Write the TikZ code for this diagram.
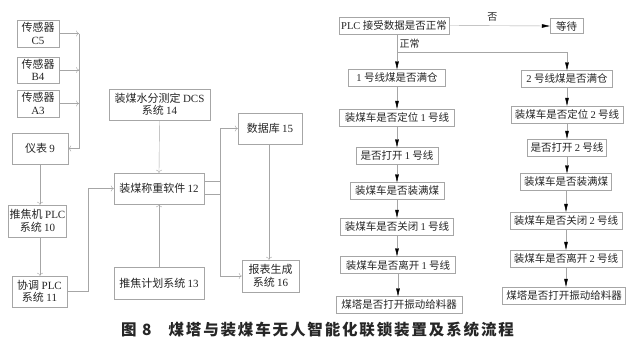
\documentclass[tikz,border=0pt]{standalone}
\usepackage{fontspec}
\setmainfont{Liberation Serif}
\newfontfamily\cjk{Noto Sans CJK SC}
\usetikzlibrary{arrows.meta}
\newcommand{\en}[1]{{\rmfamily #1}}
\tikzset{
  box/.style={draw=gray!70, thin, fill=white, align=center, text=black!85,
    inner sep=1pt, font=\cjk\fontsize{11}{12.5}\selectfont},
  fbox/.style={box, minimum height=17, font=\cjk\fontsize{10.5}{12}\selectfont},
  larr/.style={gray!70, thin, -{To[length=3pt,width=6pt]}},
  farr/.style={gray!70, thin, -{Triangle[length=8pt,width=3.6pt,black]}},
}
\begin{document}
\begin{tikzpicture}[x=1pt, y=-1pt]
\useasboundingbox (0,0) rectangle (638,348);

% ── Left: device / system links ────────────────────────────────
\node[box, minimum width=42, minimum height=27] (s5) at (38,33.5) {传感器\\\en{C5}};
\node[box, minimum width=42, minimum height=26] (s4) at (38,70)   {传感器\\\en{B4}};
\node[box, minimum width=42, minimum height=27] (s3) at (38,103.5) {传感器\\\en{A3}};
\node[box, minimum width=56, minimum height=31] (yb9) at (40,148.5) {仪表 \en{9}};
\node[box, minimum width=55, minimum height=32] (p10) at (37.5,221) {推焦机 \en{PLC}\\系统 \en{10}};
\node[box, minimum width=55, minimum height=31] (x11) at (39.5,291.5) {协调 \en{PLC}\\系统 \en{11}};
\node[box, minimum width=101, minimum height=31] (d14) at (159.5,104.5) {装煤水分测定 \en{DCS}\\系统 \en{14}};
\node[box, minimum width=90, minimum height=31] (w12) at (159,188.5) {装煤称重软件 \en{12}};
\node[box, minimum width=90, minimum height=32] (t13) at (159,283) {推焦计划系统 \en{13}};
\node[box, minimum width=64, minimum height=31] (k15) at (270,128.5) {数据库 \en{15}};
\node[box, minimum width=57, minimum height=32] (r16) at (270.5,276) {报表生成\\系统 \en{16}};

% sensors -> bus -> meter
\coordinate (bus) at (79,0);
\draw[larr] (s5.east) -- (s5.east -| bus);
\draw[larr] (s4.east) -- (s4.east -| bus);
\draw[larr] (s3.east) -- (s3.east -| bus);
\draw[larr] (s5.east -| bus) -- (yb9.east -| bus) -- (yb9.east);
% meter -> PLCs -> weighing software
\draw[larr] (yb9.south) -- (yb9.south |- p10.north);
\draw[larr] (yb9.south |- p10.south) -- (yb9.south |- x11.north);
\coordinate (up) at (88,188.5);
\draw[larr] (x11.east) -- (x11.east -| up) -- (up) -- (w12.west);
\draw[larr] (d14.south) -- (w12.north);
\draw[larr] (t13.north) -- (w12.south);
% weighing software -> database / report
\coordinate (split) at (220,0);
\draw[larr] ([yshift=-5.5]w12.east) -- ([yshift=-5.5]w12.east -| split) -- (k15.west -| split) -- (k15.west);
\draw[larr] ([yshift=7.5]w12.east) -- ([yshift=7.5]w12.east -| split) -- (r16.west -| split) -- (r16.west);
\draw[larr] (k15.south -| 269,0) -- (r16.north -| 269,0);

% ── Right: interlock flow ──────────────────────────────────────
\node[fbox, minimum width=110] (plc) at (394,25.5) {\en{PLC} 接受数据是否正常};
\node[fbox, minimum width=33, minimum height=15] (wait) at (566.5,26) {等待};

\node[fbox, minimum width=97]  (l1) at (397,78)    {\en{1} 号线煤是否满仓};
\node[fbox, minimum width=115] (l2) at (397,117.5) {装煤车是否定位 \en{1} 号线};
\node[fbox, minimum width=82]  (l3) at (397,156)   {是否打开 \en{1} 号线};
\node[fbox, minimum width=94]  (l4) at (397,191)   {装煤车是否装满煤};
\node[fbox, minimum width=113] (l5) at (397,226.5) {装煤车是否关闭 \en{1} 号线};
\node[fbox, minimum width=115] (l6) at (398,265)   {装煤车是否离开 \en{1} 号线};
\node[fbox, minimum width=126] (l7) at (399,305)   {煤塔是否打开振动给料器};

\node[fbox, minimum width=91]  (r1) at (567,79)    {\en{2} 号线煤是否满仓};
\node[fbox, minimum width=112] (r2) at (567,114.5) {装煤车是否定位 \en{2} 号线};
\node[fbox, minimum width=79]  (r3) at (567,147.5) {是否打开 \en{2} 号线};
\node[fbox, minimum width=91]  (r4) at (566,182)   {装煤车是否装满煤};
\node[fbox, minimum width=112] (r5) at (566,220.5) {装煤车是否关闭 \en{2} 号线};
\node[fbox, minimum width=112] (r6) at (566,258.5) {装煤车是否离开 \en{2} 号线};
\node[fbox, minimum width=123] (r7) at (564,295.5) {煤塔是否打开振动给料器};

\draw[farr] (plc.east) -- (wait.west)
  node[pos=0.43, above=1pt, font=\cjk\fontsize{10}{12}\selectfont, text=black!85] (no) {否};
\draw[farr] (plc.south -| l1) -- (l1.north);
\node[font=\cjk\fontsize{10}{12}\selectfont, text=black!85, anchor=west] (ok) at (396,44) {正常};
\coordinate (fork) at (397,52);
\draw[farr] (fork) -| (r1.north);

\foreach \a/\b in {l1/l2,l2/l3,l3/l4,l4/l5,l5/l6,l6/l7,r1/r2,r2/r3,r3/r4,r4/r5,r5/r6,r6/r7}
  \draw[farr] (\a.south) -- (\a.south |- \b.north);

% ── Caption ────────────────────────────────────────────────────
\node[font=\cjk\bfseries\fontsize{15.5}{18}\selectfont, text=black!85] (cap) at (317.5,330)
  {\addfontfeature{LetterSpace=12}图 8\hspace{1.1em}煤塔与装煤车无人智能化联锁装置及系统流程};

\end{tikzpicture}
\end{document}
